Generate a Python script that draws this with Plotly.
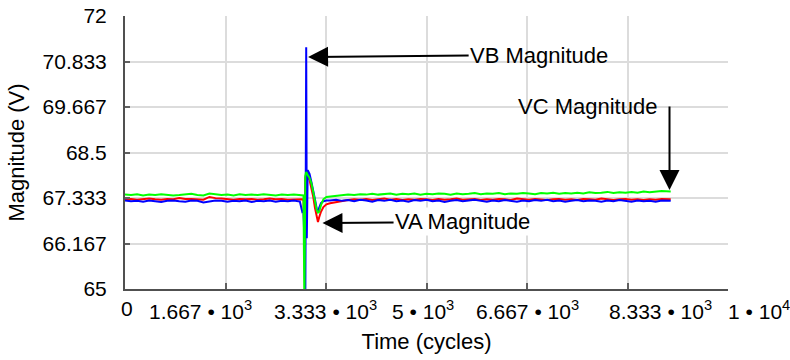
import plotly.graph_objects as go

# ---------------- data ----------------
time_cycles = [
    0, 100, 200, 300, 400, 500, 600, 700, 800, 900,
    1000, 1100, 1200, 1300, 1400, 1500, 1600, 1700, 1800, 1900,
    2000, 2100, 2200, 2300, 2400, 2500, 2600, 2700, 2800, 2900,
    2940, 2960, 2975, 2990, 3005, 3015, 3030, 3060, 3090, 3120,
    3150, 3180, 3200, 3220, 3250, 3290, 3340,
    3400, 3500, 3600, 3700, 3800, 3900, 4000,
    4100, 4200, 4300, 4400, 4500, 4600, 4700, 4800, 4900, 5000,
    5100, 5200, 5300, 5400, 5500, 5600, 5700, 5800, 5900, 6000,
    6100, 6200, 6300, 6400, 6500, 6600, 6700, 6800, 6900, 7000,
    7100, 7200, 7300, 7400, 7500, 7600, 7700, 7800, 7900, 8000,
    8100, 8200, 8300, 8400, 8500, 8600, 8700, 8800, 8900, 9050,
]

va_magnitude = [
    67.30, 67.31, 67.29, 67.30, 67.32, 67.30, 67.29, 67.31, 67.30, 67.33,
    67.31, 67.31, 67.30, 67.29, 67.36, 67.33, 67.32, 67.30, 67.29, 67.31,
    67.30, 67.31, 67.29, 67.30, 67.32, 67.30, 67.31, 67.29, 67.30, 67.31,
    67.30, 67.28, 66.30, 67.85, 67.95, 67.90, 67.88, 67.80, 67.62, 67.38,
    67.08, 66.80, 66.72, 66.84, 66.98, 67.10, 67.17,
    67.20, 67.23, 67.26, 67.28, 67.30, 67.29, 67.31,
    67.28, 67.30, 67.32, 67.29, 67.31, 67.28, 67.30, 67.29, 67.31, 67.30,
    67.28, 67.31, 67.29, 67.30, 67.32, 67.29, 67.30, 67.31, 67.28, 67.30,
    67.29, 67.31, 67.30, 67.28, 67.32, 67.30, 67.29, 67.31, 67.30, 67.28,
    67.30, 67.31, 67.29, 67.30, 67.28, 67.31, 67.30, 67.29, 67.32, 67.30,
    67.28, 67.30, 67.31, 67.29, 67.30, 67.28, 67.30, 67.29, 67.31, 67.30,
]

vb_magnitude = [
    67.27, 67.25, 67.26, 67.24, 67.27, 67.25, 67.23, 67.26, 67.27, 67.25,
    67.24, 67.27, 67.26, 67.22, 67.25, 67.27, 67.26, 67.24, 67.26, 67.25,
    67.27, 67.23, 67.26, 67.25, 67.27, 67.24, 67.26, 67.25, 67.27, 67.24,
    66.98, 67.00, 66.25, 64.50, 71.20, 66.30, 68.05, 67.95, 67.75, 67.55,
    67.30, 67.05, 66.98, 67.08, 67.20, 67.25, 67.27,
    67.27, 67.29, 67.26, 67.28, 67.25, 67.29, 67.27,
    67.24, 67.28, 67.26, 67.29, 67.25, 67.27, 67.24, 67.28, 67.26, 67.29,
    67.25, 67.27, 67.23, 67.26, 67.28, 67.25, 67.27, 67.29, 67.26, 67.24,
    67.27, 67.25, 67.28, 67.26, 67.24, 67.27, 67.25, 67.28, 67.26, 67.29,
    67.25, 67.27, 67.24, 67.26, 67.28, 67.25, 67.27, 67.26, 67.24, 67.27,
    67.25, 67.28, 67.26, 67.24, 67.27, 67.25, 67.26, 67.24, 67.27, 67.26,
]

vc_magnitude = [
    67.42, 67.41, 67.43, 67.40, 67.42, 67.41, 67.43, 67.42, 67.40, 67.41,
    67.42, 67.44, 67.41, 67.40, 67.45, 67.43, 67.41, 67.42, 67.40, 67.43,
    67.41, 67.42, 67.41, 67.43, 67.42, 67.40, 67.42, 67.41, 67.42, 67.41,
    67.42, 67.40, 64.50, 67.90, 68.00, 67.95, 67.92, 67.85, 67.72, 67.50,
    67.25, 67.02, 66.96, 66.98, 67.15, 67.30, 67.36,
    67.37, 67.38, 67.40, 67.42, 67.41, 67.43, 67.42,
    67.44, 67.42, 67.43, 67.45, 67.42, 67.44, 67.43, 67.45, 67.42, 67.44,
    67.43, 67.45, 67.44, 67.42, 67.45, 67.43, 67.44, 67.46, 67.43, 67.45,
    67.44, 67.46, 67.43, 67.45, 67.44, 67.46, 67.45, 67.43, 67.46, 67.45,
    67.47, 67.44, 67.46, 67.45, 67.47, 67.45, 67.48, 67.46, 67.47, 67.49,
    67.46, 67.48, 67.47, 67.49, 67.47, 67.50, 67.48, 67.49, 67.51, 67.50,
]

x_tick_vals = [0, 10000 / 6, 10000 / 3, 5000, 20000 / 3, 25000 / 3, 10000]
x_tick_text = ["0", "1.667 • 10<sup>3</sup>", "3.333 • 10<sup>3</sup>", "5 • 10<sup>3</sup>",
               "6.667 • 10<sup>3</sup>", "8.333 • 10<sup>3</sup>", "1 • 10<sup>4</sup>"]
y_tick_vals = [65, 65 + 7 / 6, 65 + 14 / 6, 68.5, 65 + 28 / 6, 65 + 35 / 6, 72]
y_tick_text = ["65", "66.167", "67.333", "68.5", "69.667", "70.833", "72"]

series_names = ["VA Magnitude", "VB Magnitude", "VC Magnitude"]

# ---------------- figure ----------------
FONT = "Liberation Sans, Arial, sans-serif"
fig = go.Figure()
for name, vals, col in [(series_names[0], va_magnitude, "#ff0000"),
                        (series_names[1], vb_magnitude, "#0000ff"),
                        (series_names[2], vc_magnitude, "#00ff00")]:
    fig.add_trace(go.Scatter(x=time_cycles, y=vals, mode="lines", name=name,
                             line=dict(color=col, width=2), showlegend=False))

# tick labels placed under the ticks (spread like the original to avoid overlap)
label_shift = [2, -25, -1, -4, 0, 33, 31]
annotations = []
for v, txt, sh in zip(x_tick_vals, x_tick_text, label_shift):
    annotations.append(dict(x=v, y=0, xref="x", yref="paper", text=txt, showarrow=False,
                            xanchor="center", yanchor="top", xshift=sh, yshift=-6,
                            font=dict(family=FONT, size=21, color="black")))

arrow_style = dict(showarrow=True, arrowhead=2, arrowsize=2, arrowwidth=2,
                   arrowcolor="black", standoff=0, xref="x", yref="y",
                   axref="x", ayref="y")
# text labels with arrows attached
annotations += [
    dict(x=3036, y=70.95, ax=6868, ay=71.0, text=series_names[1],
         font=dict(family=FONT, size=22, color="black"), **arrow_style),
    dict(x=3275, y=66.69, ax=5598, ay=66.72, text=series_names[0], bgcolor="white",
         font=dict(family=FONT, size=22, color="black"), **arrow_style),
    dict(x=7674, y=69.68, xref="x", yref="y", text=series_names[2], showarrow=False,
         font=dict(family=FONT, size=22, color="black"), xanchor="center", yanchor="middle"),
    dict(x=9030, y=67.54, ax=0, ay=-85, text="", showarrow=True, arrowhead=2,
         arrowsize=2, arrowwidth=2, arrowcolor="black", standoff=0, xref="x", yref="y"),
]

fig.update_layout(
    template="none",
    width=790, height=360,
    margin=dict(l=125, r=62, t=16, b=71),
    paper_bgcolor="white", plot_bgcolor="white",
    font=dict(family=FONT, size=21, color="black"),
    annotations=annotations,
    shapes=[dict(type="rect", xref="paper", yref="paper", x0=0.567, x1=0.9826,
                 y0=0.6007, y1=0.967, fillcolor="white", line=dict(width=0),
                 layer="between")],
)
fig.update_xaxes(
    range=[0, 10000], tickvals=x_tick_vals, showticklabels=False, automargin=False,
    showline=True, linecolor="#505050", linewidth=2,
    ticks="inside", ticklen=6, tickwidth=2, tickcolor="#606060",
    showgrid=True, gridcolor="#dcdcdc", gridwidth=2, zeroline=False,
    title=dict(text="Time (cycles)", font=dict(family=FONT, size=22), standoff=44),
)
fig.update_yaxes(
    range=[65, 72], tickvals=y_tick_vals, ticktext=y_tick_text, automargin=False,
    showline=True, linecolor="#505050", linewidth=2,
    ticks="inside", ticklen=5, tickwidth=2, tickcolor="#606060",
    showgrid=True, gridcolor="#dcdcdc", gridwidth=2, zeroline=False,
    tickfont=dict(family=FONT, size=21), ticklabelstandoff=12,
    title=dict(text="Magnitude (V)", font=dict(family=FONT, size=22), standoff=12),
)

fig.write_html("out.html")
